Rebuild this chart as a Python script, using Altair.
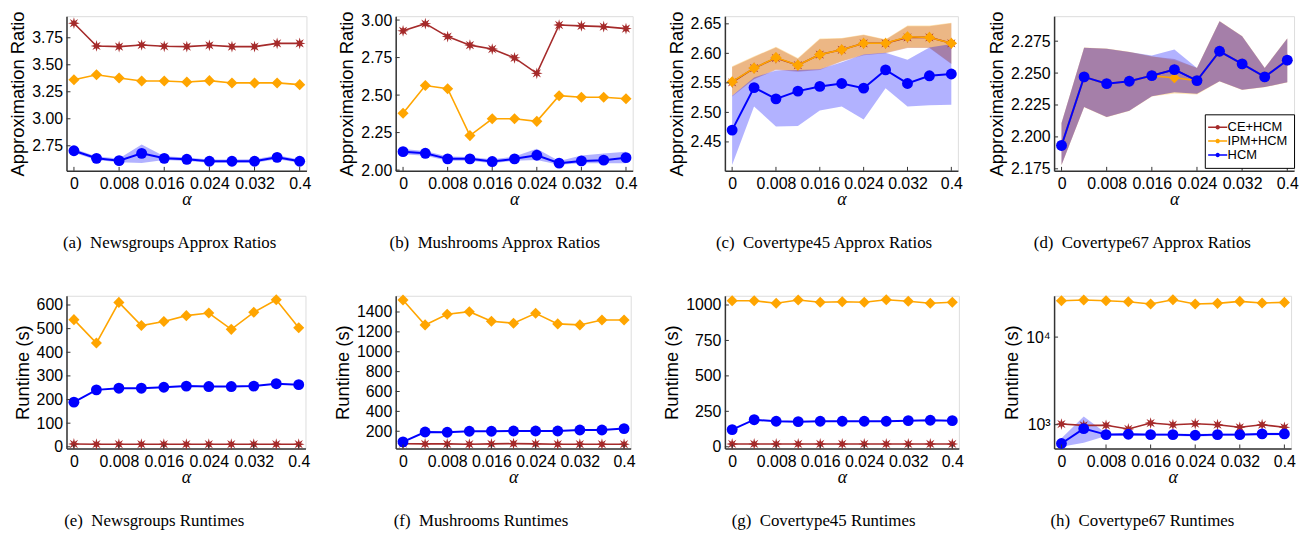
import math
import altair as alt
import pandas as pd

# ---------------- data ----------------
ALPHA_IDX = [0, 1, 2, 3, 4, 5, 6, 7, 8, 9, 10]
XTICK_POS = [0, 2, 4, 6, 8, 10]
XTICK_LABELS = ["0", "0.008", "0.016", "0.024", "0.032", "0.4"]
SERIES = ["CE+HCM", "IPM+HCM", "HCM"]
COLORS = ["#a52a2a", "#ffa500", "#0000ff"]

# (a) Newsgroups approx ratios
A_CE = [3.885, 3.674, 3.668, 3.683, 3.671, 3.668, 3.680, 3.668, 3.668, 3.698, 3.698]
A_IPM = [3.362, 3.408, 3.377, 3.350, 3.350, 3.341, 3.353, 3.332, 3.332, 3.332, 3.316]
A_HCM = [2.704, 2.634, 2.612, 2.680, 2.634, 2.625, 2.607, 2.607, 2.607, 2.643, 2.607]
A_HCM_LO = [2.685, 2.618, 2.598, 2.590, 2.618, 2.610, 2.592, 2.592, 2.592, 2.625, 2.592]
A_HCM_HI = [2.722, 2.650, 2.632, 2.762, 2.652, 2.642, 2.624, 2.624, 2.626, 2.662, 2.624]

# (b) Mushrooms approx ratios
B_CE = [2.928, 2.976, 2.890, 2.833, 2.807, 2.748, 2.645, 2.967, 2.961, 2.956, 2.943]
B_IPM = [2.379, 2.564, 2.542, 2.230, 2.342, 2.342, 2.325, 2.496, 2.485, 2.485, 2.476]
B_HCM = [2.123, 2.112, 2.075, 2.075, 2.057, 2.075, 2.099, 2.046, 2.061, 2.066, 2.083]
B_HCM_LO = [2.105, 2.095, 2.062, 2.063, 2.045, 2.062, 2.068, 2.035, 2.045, 2.045, 2.045]
B_HCM_HI = [2.140, 2.128, 2.090, 2.088, 2.072, 2.090, 2.142, 2.060, 2.098, 2.110, 2.122]

# (c) Covertype45 approx ratios
C_CE = [2.551, 2.575, 2.592, 2.580, 2.598, 2.606, 2.617, 2.617, 2.627, 2.627, 2.617]
C_CE_LO = [2.527, 2.556, 2.572, 2.569, 2.572, 2.586, 2.597, 2.600, 2.609, 2.609, 2.582]
C_CE_HI = [2.577, 2.594, 2.610, 2.591, 2.624, 2.625, 2.631, 2.623, 2.646, 2.646, 2.651]
C_IPM = [2.552, 2.575, 2.593, 2.580, 2.598, 2.606, 2.617, 2.617, 2.628, 2.627, 2.617]
C_IPM_LO = [2.529, 2.557, 2.573, 2.570, 2.573, 2.587, 2.598, 2.601, 2.610, 2.610, 2.583]
C_IPM_HI = [2.578, 2.595, 2.611, 2.592, 2.625, 2.626, 2.632, 2.624, 2.647, 2.647, 2.652]
C_HCM = [2.470, 2.542, 2.523, 2.536, 2.544, 2.549, 2.541, 2.572, 2.549, 2.562, 2.565]
C_HCM_LO = [2.411, 2.510, 2.476, 2.477, 2.503, 2.510, 2.488, 2.541, 2.510, 2.512, 2.513]
C_HCM_HI = [2.528, 2.559, 2.571, 2.572, 2.573, 2.585, 2.598, 2.601, 2.589, 2.610, 2.616]

# (d) Covertype67 approx ratios
D_CE = [2.1933, 2.2470, 2.2417, 2.2436, 2.2480, 2.2527, 2.2441, 2.2671, 2.2572, 2.2470, 2.2601]
D_CE_LO = [2.1780, 2.2234, 2.2156, 2.2205, 2.2318, 2.2349, 2.2339, 2.2436, 2.2370, 2.2391, 2.2428]
D_CE_HI = [2.2108, 2.2698, 2.2690, 2.2666, 2.2630, 2.2611, 2.2540, 2.2907, 2.2789, 2.2540, 2.2770]
D_IPM = [2.1933, 2.2470, 2.2417, 2.2436, 2.2478, 2.2463, 2.2441, 2.2671, 2.2572, 2.2470, 2.2601]
D_IPM_LO = [2.1778, 2.2232, 2.2154, 2.2203, 2.2316, 2.2340, 2.2333, 2.2434, 2.2368, 2.2389, 2.2426]
D_IPM_HI = [2.2110, 2.2700, 2.2692, 2.2668, 2.2632, 2.2600, 2.2542, 2.2909, 2.2791, 2.2542, 2.2772]
D_HCM = [2.1933, 2.2470, 2.2417, 2.2436, 2.2480, 2.2527, 2.2441, 2.2671, 2.2572, 2.2470, 2.2601]
D_HCM_LO = [2.1780, 2.2234, 2.2156, 2.2205, 2.2318, 2.2349, 2.2339, 2.2436, 2.2370, 2.2391, 2.2428]
D_HCM_HI = [2.2108, 2.2698, 2.2690, 2.2666, 2.2637, 2.2685, 2.2540, 2.2907, 2.2789, 2.2540, 2.2770]

# (e) Newsgroups runtimes (s)
E_CE = [12, 11, 11, 11, 11, 11, 11, 11, 11, 11, 11]
E_IPM = [538, 439, 611, 513, 530, 555, 566, 497, 569, 622, 504]
E_HCM = [189, 241, 248, 248, 252, 257, 255, 255, 257, 267, 263]

# (f) Mushrooms runtimes (s)
F_CE = [75, 73, 73, 70, 73, 76, 73, 70, 70, 70, 70]
F_IPM = [1520, 1270, 1377, 1403, 1307, 1287, 1387, 1280, 1270, 1320, 1320]
F_HCM = [94, 193, 190, 200, 200, 203, 203, 203, 213, 213, 227]

# (g) Covertype45 runtimes (s)
G_CE = [20, 20, 20, 20, 20, 20, 20, 20, 20, 20, 20]
G_IPM = [1030, 1030, 1012, 1035, 1019, 1023, 1019, 1037, 1026, 1012, 1019]
G_HCM = [121, 191, 180, 177, 180, 180, 180, 180, 184, 187, 184]

# (h) Covertype67 runtimes (s), log scale
H_CE = [1017, 983, 983, 894, 1044, 1000, 1026, 1000, 933, 1000, 933]
H_IPM = [26000, 26470, 26000, 25330, 23850, 26700, 23850, 24270, 25550, 24480, 24910]
H_HCM = [610, 901, 770, 777, 770, 770, 757, 770, 770, 784, 784]
H_HCM_LO = [560, 620, 742, 752, 745, 745, 733, 745, 745, 760, 760]
H_HCM_HI = [700, 1240, 798, 803, 795, 795, 782, 795, 795, 808, 808]

CAPTIONS = [
    "(a)\u00a0\u00a0Newsgroups Approx Ratios",
    "(b)\u00a0\u00a0Mushrooms Approx Ratios",
    "(c)\u00a0\u00a0Covertype45 Approx Ratios",
    "(d)\u00a0\u00a0Covertype67 Approx Ratios",
    "(e)\u00a0\u00a0Newsgroups Runtimes",
    "(f)\u00a0\u00a0Mushrooms Runtimes",
    "(g)\u00a0\u00a0Covertype45 Runtimes",
    "(h)\u00a0\u00a0Covertype67 Runtimes",
]

# ---------------- styles ----------------
FONT = "Liberation Sans"
SERIF = "Liberation Serif"
AXIS_COLOR = "#333333"
X_DOMAIN = [-0.33, 10.3]
TICK_FS = 16
TITLE_FS = 18.5


def star_path(n=8, r_in=0.42):
    pts = []
    for k in range(2 * n):
        a = math.pi * k / n - math.pi / 2
        r = 1.0 if k % 2 == 0 else r_in
        pts.append(f"{r * math.cos(a):.3f},{r * math.sin(a):.3f}")
    return "M" + "L".join(pts) + "Z"


STYLE = {
    "CE+HCM": dict(color=COLORS[0], shape=star_path(), size=140, sw=1.6),
    "IPM+HCM": dict(color=COLORS[1], shape="diamond", size=125, sw=1.6),
    "HCM": dict(color=COLORS[2], shape="circle", size=120, sw=2.0),
}

X_LABEL_EXPR = " : ".join(
    f"datum.value == {p} ? '{l}'" for p, l in zip(XTICK_POS, XTICK_LABELS)
) + " : ''"

LEGEND = alt.Legend(
    orient="none",
    legendX=152,
    legendY=99,
    title=None,
    strokeColor="black",
    fillColor="white",
    padding=6,
    cornerRadius=0,
    labelFont=FONT,
    labelFontSize=13,
    labelColor="black",
    labelOffset=3,
    rowPadding=-2,
    symbolType="M-1.6,0H1.6M-0.25,0A0.25,0.25,0,1,1,0.25,0A0.25,0.25,0,1,1,-0.25,0Z",
    symbolSize=144,
    symbolStrokeWidth=1.5,
)


def panel(series, ydomain, yticks, ytitle, caption, cap_dx, width, height,
          yformat=None, ylabelexpr=None, log=False, legend=False):
    xs = alt.Scale(domain=X_DOMAIN, nice=False, zero=False)
    if log:
        ys = alt.Scale(type="log", domain=ydomain, nice=False)
    else:
        ys = alt.Scale(domain=ydomain, nice=False, zero=False)

    xaxis = alt.Axis(
        values=XTICK_POS, labelExpr=X_LABEL_EXPR, title="α", grid=False, ticks=False,
        labelFont=FONT, labelFontSize=TICK_FS, labelColor="black", labelPadding=5,
        labelOverlap=False, titleFont=SERIF, titleFontStyle="italic",
        titleFontSize=18, titleFontWeight="normal", titleColor="black",
        titlePadding=-1, domainColor=AXIS_COLOR, domainWidth=1.5,
    )
    ykw = dict(
        values=yticks, title=ytitle, grid=False, ticks=False,
        labelFont=FONT, labelFontSize=TICK_FS, labelColor="black", labelPadding=4,
        labelOverlap=False, titleFont=FONT, titleFontSize=TITLE_FS,
        titleFontWeight="normal", titleColor="black", titlePadding=4,
        domainColor=AXIS_COLOR, domainWidth=1.5,
    )
    if yformat:
        ykw["format"] = yformat
    if ylabelexpr:
        ykw["labelExpr"] = ylabelexpr
    yaxis = alt.Axis(**ykw)

    layers = []
    # confidence bands
    for name, vals, lo, hi in series:
        if lo is None:
            continue
        df = pd.DataFrame({"idx": ALPHA_IDX, "lo": lo, "hi": hi})
        layers.append(
            alt.Chart(df).mark_area(color=STYLE[name]["color"], opacity=0.3).encode(
                x=alt.X("idx:Q", scale=xs, axis=xaxis),
                y=alt.Y("lo:Q", scale=ys, axis=yaxis),
                y2="hi:Q",
            )
        )
    # lines and markers
    for name, vals, lo, hi in series:
        st = STYLE[name]
        df = pd.DataFrame({"idx": ALPHA_IDX, "val": vals, "series": name})
        enc = dict(
            x=alt.X("idx:Q", scale=xs, axis=xaxis),
            y=alt.Y("val:Q", scale=ys, axis=yaxis),
        )
        if legend:
            line = alt.Chart(df).mark_line(strokeWidth=st["sw"]).encode(
                color=alt.Color("series:N", scale=alt.Scale(domain=SERIES, range=COLORS), legend=LEGEND),
                **enc,
            )
        else:
            line = alt.Chart(df).mark_line(strokeWidth=st["sw"], color=st["color"]).encode(**enc)
        pts = alt.Chart(df).mark_point(
            shape=st["shape"], filled=True, size=st["size"], color=st["color"],
            opacity=1, strokeWidth=0,
        ).encode(**enc)
        layers += [line, pts]
    # inward ticks
    xt = pd.DataFrame({"idx": XTICK_POS})
    layers.append(
        alt.Chart(xt).mark_rule(color=AXIS_COLOR, strokeWidth=1).encode(
            x=alt.X("idx:Q", scale=xs, axis=xaxis),
            y=alt.value(height), y2=alt.value(height - 4),
        )
    )
    yt = pd.DataFrame({"val": yticks})
    layers.append(
        alt.Chart(yt).mark_rule(color=AXIS_COLOR, strokeWidth=1).encode(
            y=alt.Y("val:Q", scale=ys, axis=yaxis),
            x=alt.value(0), x2=alt.value(4),
        )
    )
    return alt.layer(*layers).properties(
        width=width,
        height=height,
        title=alt.TitleParams(
            text=caption, orient="bottom", anchor="middle", frame="group",
            font=SERIF, fontSize=17, fontWeight="normal", color="black",
            offset=27, dx=cap_dx,
        ),
    )


TOP_H = 156
BOT_H = 154

pa = panel([("CE+HCM", A_CE, None, None), ("IPM+HCM", A_IPM, None, None), ("HCM", A_HCM, A_HCM_LO, A_HCM_HI)],
           [2.518, 3.95], [2.75, 3.0, 3.25, 3.5, 3.75], "Approximation Ratio", CAPTIONS[0], -17,
           242, TOP_H, yformat=".2f")
pb = panel([("CE+HCM", B_CE, None, None), ("IPM+HCM", B_IPM, None, None), ("HCM", B_HCM, B_HCM_LO, B_HCM_HI)],
           [1.995, 3.026], [2.0, 2.25, 2.5, 2.75, 3.0], "Approximation Ratio", CAPTIONS[1], -19.5,
           239, TOP_H, yformat=".2f")
pc = panel([("CE+HCM", C_CE, C_CE_LO, C_CE_HI), ("IPM+HCM", C_IPM, C_IPM_LO, C_IPM_HI), ("HCM", C_HCM, C_HCM_LO, C_HCM_HI)],
           [2.401, 2.663], [2.45, 2.5, 2.55, 2.6, 2.65], "Approximation Ratio", CAPTIONS[2], -17.5,
           235, TOP_H, yformat=".2f")
pd_ = panel([("CE+HCM", D_CE, D_CE_LO, D_CE_HI), ("IPM+HCM", D_IPM, D_IPM_LO, D_IPM_HI), ("HCM", D_HCM, D_HCM_LO, D_HCM_HI)],
            [2.1734, 2.2946], [2.175, 2.2, 2.225, 2.25, 2.275], "Approximation Ratio", CAPTIONS[3], -32,
            242, TOP_H, yformat=".3f", legend=True)
pe = panel([("CE+HCM", E_CE, None, None), ("IPM+HCM", E_IPM, None, None), ("HCM", E_HCM, None, None)],
           [-7, 639], [0, 100, 200, 300, 400, 500, 600], "Runtime (s)", CAPTIONS[4], -32,
           241, BOT_H, yformat="d")
pf = panel([("CE+HCM", F_CE, None, None), ("IPM+HCM", F_IPM, None, None), ("HCM", F_HCM, None, None)],
           [27, 1563], [200, 400, 600, 800, 1000, 1200, 1400], "Runtime (s)", CAPTIONS[5], -32.5,
           237, BOT_H, yformat="d")
pg = panel([("CE+HCM", G_CE, None, None), ("IPM+HCM", G_IPM, None, None), ("HCM", G_HCM, None, None)],
           [-12, 1065], [0, 250, 500, 750, 1000], "Runtime (s)", CAPTIONS[6], -18.5,
           236, BOT_H, yformat="d")
ph = panel([("CE+HCM", H_CE, None, None), ("IPM+HCM", H_IPM, None, None), ("HCM", H_HCM, H_HCM_LO, H_HCM_HI)],
           [535, 29630], [1000, 10000], "Runtime (s)", CAPTIONS[7], -30.5,
           239, BOT_H, ylabelexpr="datum.value == 1000 ? '10³' : '10⁴'", log=True)

chart = (
    alt.concat(pa, pb, pc, pd_, pe, pf, pg, ph, columns=4, spacing={"row": 126, "column": 90})
    .properties(align="all", bounds="flush", padding={"left": 0, "top": 0, "right": 0, "bottom": 0})
    .resolve_scale(color="independent")
    .resolve_legend(color="independent")
    .configure_view(stroke=None)
    .configure(background="white")
)

chart.save("out.html", embed_options={"renderer": "svg", "actions": False})
